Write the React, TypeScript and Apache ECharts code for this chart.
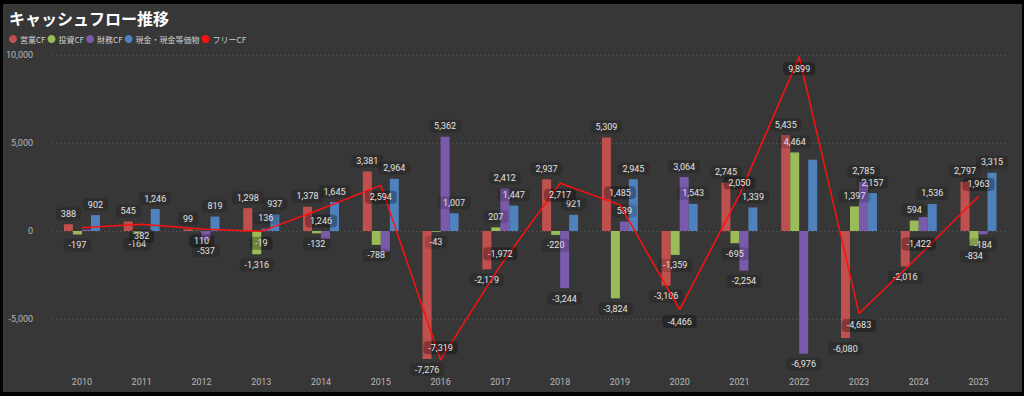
import React, { useEffect, useRef } from "react";
import * as echarts from "echarts";

const years = ["2010","2011","2012","2013","2014","2015","2016","2017","2018","2019","2020","2021","2022","2023","2024","2025"];
const operatingCF = [388, 545, 99, 1298, 1378, 3381, -7276, -2179, 2937, 5309, -3106, 2745, 5435, -6080, -2016, 2797];
const investingCF = [-197, -164, 11, -1316, -132, -788, -43, 207, -220, -3824, -1359, -695, 4464, 1397, 594, -834];
const financingCF = [80, -40, -537, 136, -450, -1170, 5362, 2412, -3244, 539, 3064, -2254, -6976, 2785, 790, -184];
const cashEquiv = [902, 1246, 819, 937, 1645, 2964, 1007, 1447, 921, 2945, 1543, 1339, 4050, 2157, 1536, 3315];
const freeCF = [191, 382, 110, -19, 1246, 2594, -7319, -1972, 2717, 1485, -4466, 2050, 9899, -4683, -1422, 1963];
const yTicks = [-5000, 0, 5000, 10000];

// label placement for the free CF line (style only)
const freeLabelPos = ["none","bottom","bottom","bottom","bottom","bottom","top","top","bottom","top","bottom","top","bottom","bottom","top","top"];
// labels not shown in the reference
const unlabeled: Record<string, string[]> = {
  "財務CF": ["2010", "2011", "2014", "2015", "2024"],
  "投資CF": ["2012"],
  "現金・現金等価物": ["2022"],
};

const fmt = (v: number) => v.toLocaleString("en-US");

const labelBase = {
  show: true,
  color: "#e2e2e2",
  fontSize: 9,
  fontWeight: "normal" as const,
  fontFamily: "Roboto, 'Noto Sans', sans-serif",
  backgroundColor: "rgba(0,0,0,0.16)",
  borderRadius: 4,
  padding: [2, 5, 2, 5],
  distance: 4,
  formatter: (p: any) => fmt(p.value),
};

function barSeries(name: string, values: number[], color: string) {
  const hide = unlabeled[name] || [];
  return {
    name,
    type: "bar",
    barWidth: 9,
    barGap: "0%",
    itemStyle: { color },
    data: values.map((v, i) => ({
      value: v,
      label: hide.includes(years[i])
        ? { show: false }
        : { ...labelBase, position: v < 0 ? "bottom" : "top" },
    })),
  };
}

export default function App() {
  const ref = useRef<HTMLDivElement>(null);
  useEffect(() => {
    if (!ref.current) return;
    const chart = echarts.init(ref.current, null, { renderer: "svg" });
    chart.setOption({
      animation: false,
      backgroundColor: "#373737",
      title: {
        text: "キャッシュフロー推移",
        left: 1,
        top: 1,
        textStyle: {
          color: "#ffffff",
          fontSize: 16,
          fontWeight: "bold",
          fontFamily: "'Noto Sans CJK JP', sans-serif",
        },
      },
      legend: {
        left: 1,
        top: 26,
        icon: "circle",
        itemWidth: 8,
        itemHeight: 8,
        itemGap: 2,
        textStyle: { color: "#cfcfcf", fontSize: 8, fontFamily: "'Noto Sans CJK JP', sans-serif", padding: [0, 0, 0, -2] },
        data: ["営業CF", "投資CF", "財務CF", "現金・現金等価物", "フリーCF"],
      },
      grid: { left: 47, right: 13.6, top: 51, bottom: 20.2, containLabel: false },
      xAxis: {
        type: "category",
        data: years,
        axisLine: { show: false },
        axisTick: { show: false },
        axisLabel: { color: "#b8b8b8", fontSize: 9, margin: 6, fontFamily: "Roboto, sans-serif" },
      },
      yAxis: {
        type: "value",
        min: -8000,
        max: 10000,
        axisLine: { show: false },
        axisTick: { show: false, customValues: yTicks },
        axisLabel: {
          customValues: yTicks,
          color: "#b8b8b8",
          fontSize: 9,
          margin: 19,
          fontFamily: "Roboto, sans-serif",
          formatter: (v: number) => fmt(v),
        },
        splitLine: { show: true, lineStyle: { color: "#5c5c5c", type: [1, 3], width: 1 } },
      },
      series: [
        barSeries("営業CF", operatingCF, "#c0504d"),
        barSeries("投資CF", investingCF, "#9bbb59"),
        barSeries("財務CF", financingCF, "#7a5aab"),
        barSeries("現金・現金等価物", cashEquiv, "#4f81bd"),
        {
          name: "フリーCF",
          type: "line",
          showSymbol: true,
          symbol: "circle",
          symbolSize: 1,
          itemStyle: { color: "#ff1010" },
          lineStyle: { color: "#ff1010", width: 1.5 },
          z: 5,
          data: freeCF.map((v, i) => ({
            value: v,
            label:
              freeLabelPos[i] === "none"
                ? { show: false }
                : {
                    ...labelBase,
                    backgroundColor: "rgba(0,0,0,0.3)",
                    position: freeLabelPos[i],
                    distance: 5,
                  },
          })),
        },
      ],
    });
    return () => chart.dispose();
  }, []);
  return (
    <div style={{ position: "fixed", left: 0, top: 0, width: 1024, height: 396, background: "#000" }}>
      <div ref={ref} style={{ position: "absolute", left: 3, top: 4, width: 1019, height: 388 }} />
    </div>
  );
}
